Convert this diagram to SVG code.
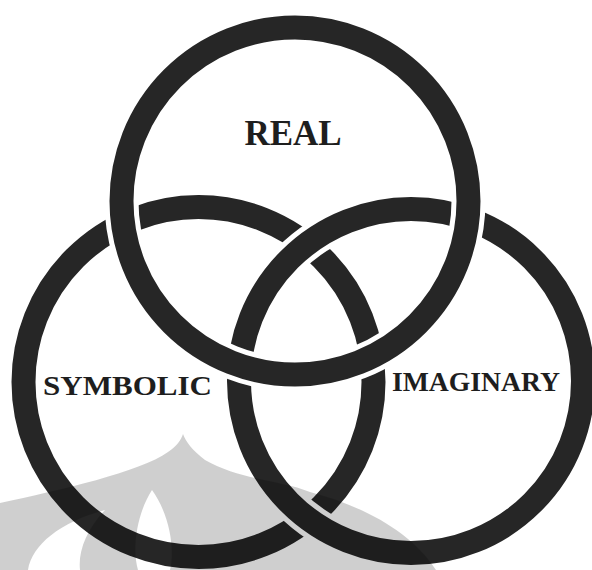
<svg xmlns="http://www.w3.org/2000/svg" width="592" height="570" viewBox="0 0 592 570">
  <style>
    .halo { fill: none; stroke: #ffffff; stroke-width: 34; }
    .ring { fill: none; stroke: #262626; stroke-width: 24; }
    .lbl { font-family: "Liberation Serif", "Times New Roman", serif; font-weight: bold; fill: #1e1e1e; }
    .wm { fill: #000000; fill-opacity: 0.19; }
  </style>
  <rect width="592" height="570" fill="#ffffff"/>
  <g id="connectors"></g>
  <g id="symbolic">
    <circle class="ring" cx="198.5" cy="382" r="175"/>
  </g>
  <g id="imaginary">
    <circle class="halo" cx="411" cy="381" r="172"/>
    <circle class="ring" cx="411" cy="381" r="172"/>
  </g>
  <g id="real">
    <circle class="halo" cx="295" cy="201" r="173.5"/>
    <circle class="ring" cx="295" cy="201" r="173.5"/>
  </g>
  <g id="labels">
    <text class="lbl" x="293" y="145" font-size="35" text-anchor="middle">REAL</text>
    <text class="lbl" x="43" y="395" font-size="28" textLength="169" lengthAdjust="spacingAndGlyphs">SYMBOLIC</text>
    <text class="lbl" x="392" y="391" font-size="27.5" textLength="168" lengthAdjust="spacingAndGlyphs">IMAGINARY</text>
  </g>
  <g id="watermark">
    <path class="wm" fill-rule="evenodd" d="M0,503 C60,490 140,472 168,452 C177,446 181,440 183,434 C186,442 192,450 205,460 C240,480 280,480 310,492 C360,505 410,530 436,570 L0,570 Z M28,570 C32,545 60,522 105,510 C86,530 78,552 80,570 Z M152,490 C136,515 132,550 138,570 L170,570 C175,550 170,515 152,490 Z"/>
  </g>
</svg>
